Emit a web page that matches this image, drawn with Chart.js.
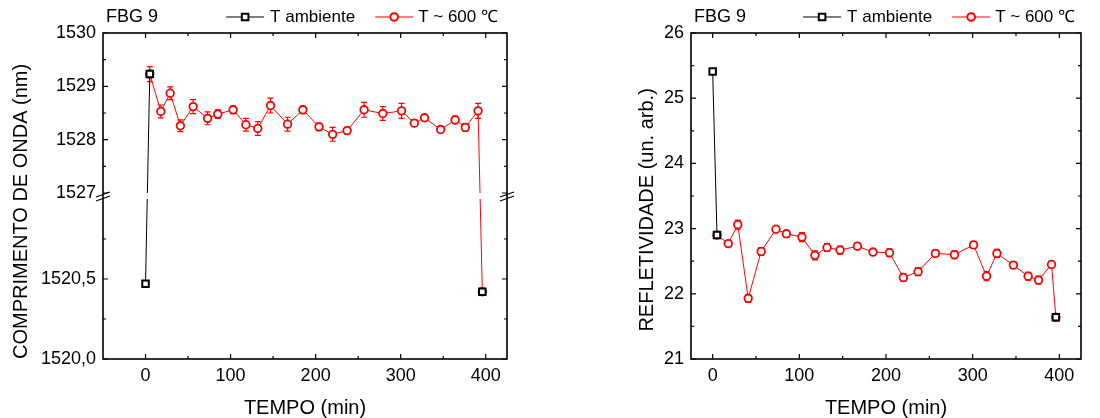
<!DOCTYPE html>
<html>
<head>
<meta charset="utf-8">
<script src="https://cdn.jsdelivr.net/npm/chart.js@4.4.0/dist/chart.umd.min.js"></script>
<style>
    html, body { margin: 0; padding: 0; background: #fff; }
    .wrap { display: flex; width: 1100px; height: 418px; }
    .panel { position: relative; width: 550px; height: 418px; }
</style>
</head>
<body>
<div class="wrap">
    <div class="panel"><canvas id="lambdaChart"></canvas></div>
    <div class="panel"><canvas id="reflChart"></canvas></div>
</div>
<script>
// time of each reading (min) - heated series
const tempo = [5, 18, 29, 41, 56, 73, 85, 103, 118, 132, 147, 167, 185, 204, 220, 237, 257, 279, 301, 316, 328, 347, 364, 376, 391, 396];
// room temperature readings
const tempoAmb = [0, 5, 396];

// left panel: wavelength (nm)
const lambdaAmb = [1520.47, 1529.23, 1520.42];
const lambdaHot = [1529.23, 1528.53, 1528.87, 1528.26, 1528.62, 1528.40, 1528.48, 1528.56, 1528.28, 1528.21, 1528.64, 1528.29, 1528.56,
                   1528.24, 1528.10, 1528.17, 1528.56, 1528.49, 1528.54, 1528.31, 1528.41, 1528.19, 1528.37, 1528.23, 1528.54, 1520.42];
const lambdaHotErr = [0.14, 0.12, 0.12, 0.11, 0.13, 0.12, 0.08, 0.07, 0.12, 0.13, 0.14, 0.13, 0.07,
                      0.07, 0.13, 0.06, 0.14, 0.13, 0.14, 0.06, 0.06, 0.05, 0.07, 0.07, 0.14, 0.02];

// right panel: reflectivity (arb. units)
const reflAmb = [25.41, 22.90, 21.64];
const reflHot = [22.90, 22.77, 23.06, 21.93, 22.65, 22.99, 22.92, 22.87, 22.59, 22.71, 22.67, 22.73, 22.64,
                 22.63, 22.25, 22.34, 22.62, 22.60, 22.75, 22.27, 22.62, 22.44, 22.27, 22.21, 22.45, 21.64];
const reflHotErr = [0.05, 0.04, 0.07, 0.06, 0.06, 0.05, 0.05, 0.07, 0.07, 0.06, 0.06, 0.05, 0.05,
                    0.06, 0.06, 0.06, 0.05, 0.06, 0.05, 0.07, 0.06, 0.05, 0.06, 0.06, 0.05, 0.05];

// ticks
const tempoTicks = [0, 100, 200, 300, 400];
const tempoMinor = [50, 150, 250, 350];
const lambdaTicks = [1520, 1520.5, 1527, 1528, 1529, 1530];
const lambdaTickLabels = ['1520,0', '1520,5', '1527', '1528', '1529', '1530'];
const lambdaMinor = [1520.25, 1520.75, 1527.5, 1528.5, 1529.5];
const reflTicks = [21, 22, 23, 24, 25, 26];
const reflMinor = [21.5, 22.5, 23.5, 24.5, 25.5];

const panelLabel = 'FBG 9';
const ambLabel = 'T ambiente';
const hotLabel = 'T ~ 600 \u2103';

// broken axis: lower part 1520..1521, upper part 1527..1530
const lowRange = [1520, 1521];
const highRange = [1527, 1530];

const FONT = 'Arial, "Liberation Sans", sans-serif';
Chart.defaults.font.family = FONT;
Chart.defaults.color = '#000';

class BrokenScale extends Chart.LinearScale {
    segLen() {
        return (this.bottom - this.top) * 160 / 326;
    }
    getPixelForValue(value) {
        if (value === null || value === undefined || isNaN(value)) return NaN;
        const seg = this.segLen();
        if (value <= (lowRange[1] + highRange[0]) / 2) {
            return this.bottom - (value - lowRange[0]) / (lowRange[1] - lowRange[0]) * seg;
        }
        return this.top + (highRange[1] - value) / (highRange[1] - highRange[0]) * seg;
    }
    getValueForPixel(pixel) {
        const seg = this.segLen();
        const mid = (this.top + this.bottom) / 2;
        if (pixel >= mid) {
            return lowRange[0] + (this.bottom - pixel) / seg * (lowRange[1] - lowRange[0]);
        }
        return highRange[1] - (pixel - this.top) / seg * (highRange[1] - highRange[0]);
    }
}
BrokenScale.id = 'broken';
BrokenScale.defaults = Chart.LinearScale.defaults;
Chart.register(BrokenScale);

function makeTicks(major, minor) {
    return major.concat(minor).sort((a, b) => a - b).map(v => ({ value: v }));
}

function drawMarker(ctx, type, x, y, color) {
    ctx.save();
    ctx.fillStyle = '#fff';
    ctx.strokeStyle = color;
    ctx.lineWidth = 2;
    ctx.beginPath();
    if (type === 'rect') {
        ctx.rect(x - 3.3, y - 3.3, 6.6, 6.6);
    } else {
        ctx.arc(x, y, 3.8, 0, Math.PI * 2);
    }
    ctx.fill();
    ctx.stroke();
    ctx.restore();
}

// frame, inner ticks, error bars, legend and axis break
function makeDecor(cfg) {
    return {
        id: 'decor',
        beforeDatasetsDraw(chart) {
            const ctx = chart.ctx;
            const yScale = chart.scales.y;
            const meta = chart.getDatasetMeta(1);
            ctx.save();
            ctx.strokeStyle = '#ff0000';
            ctx.lineWidth = 1.2;
            meta.data.forEach((pt, i) => {
                const v = cfg.values[i];
                const e = cfg.errors[i];
                const yt = yScale.getPixelForValue(v + e);
                const yb = yScale.getPixelForValue(v - e);
                ctx.beginPath();
                ctx.moveTo(pt.x, yt); ctx.lineTo(pt.x, yb);
                ctx.moveTo(pt.x - 3, yt); ctx.lineTo(pt.x + 3, yt);
                ctx.moveTo(pt.x - 3, yb); ctx.lineTo(pt.x + 3, yb);
                ctx.stroke();
            });
            ctx.restore();
        },
        afterDatasetsDraw(chart) {
            const ctx = chart.ctx;
            const a = chart.chartArea;
            const xs = chart.scales.x;
            const ys = chart.scales.y;
            ctx.save();

            let breakY = null;
            if (cfg.broken) {
                const yHigh = ys.getPixelForValue(highRange[0]);
                const yLow = ys.getPixelForValue(lowRange[1]);
                breakY = (yHigh + yLow) / 2;
                ctx.fillStyle = '#fff';
                ctx.fillRect(a.left + 1, yHigh, a.right - a.left - 2, yLow - yHigh);
            }

            // frame
            ctx.strokeStyle = '#000';
            ctx.lineWidth = 1.6;
            ctx.strokeRect(a.left, a.top, a.right - a.left, a.bottom - a.top);

            // inner ticks on all four sides
            ctx.lineWidth = 1.2;
            ctx.beginPath();
            xs.ticks.forEach(t => {
                const px = xs.getPixelForValue(t.value);
                if (px < a.left || px > a.right) return;
                const len = tempoTicks.includes(t.value) ? 5 : 3;
                ctx.moveTo(px, a.bottom); ctx.lineTo(px, a.bottom - len);
                ctx.moveTo(px, a.top); ctx.lineTo(px, a.top + len);
            });
            ys.ticks.forEach(t => {
                const py = ys.getPixelForValue(t.value);
                const len = cfg.yMajor.includes(t.value) ? 5 : 3;
                ctx.moveTo(a.left, py); ctx.lineTo(a.left + len, py);
                ctx.moveTo(a.right, py); ctx.lineTo(a.right - len, py);
            });
            ctx.stroke();

            // break marks
            if (breakY !== null) {
                ctx.lineWidth = 1.2;
                [a.left, a.right].forEach(ax => {
                    ctx.beginPath();
                    ctx.moveTo(ax - 7, breakY + 1); ctx.lineTo(ax + 7, breakY - 4);
                    ctx.moveTo(ax - 7, breakY + 5); ctx.lineTo(ax + 7, breakY);
                    ctx.stroke();
                });
            }

            // panel label and legend
            const ly = 17;
            ctx.fillStyle = '#000';
            ctx.textBaseline = 'middle';
            ctx.textAlign = 'left';
            ctx.font = '18px ' + FONT;
            ctx.fillText(panelLabel, a.left + 3, ly);

            ctx.font = cfg.legendSize + 'px ' + FONT;
            const hotW = ctx.measureText(hotLabel).width;
            const ambW = ctx.measureText(ambLabel).width;
            const hotText = a.right - cfg.legendRight - hotW;
            const hotLine = hotText - 5 - 38;
            const ambText = hotLine - 20 - ambW;
            const ambLine = ambText - 6 - 38;

            ctx.lineWidth = 1;
            ctx.strokeStyle = '#000';
            ctx.beginPath();
            ctx.moveTo(ambLine, ly); ctx.lineTo(ambLine + 38, ly);
            ctx.stroke();
            drawMarker(ctx, 'rect', ambLine + 19, ly, '#000');
            ctx.fillText(ambLabel, ambText, ly);

            ctx.strokeStyle = '#ff0000';
            ctx.beginPath();
            ctx.moveTo(hotLine, ly); ctx.lineTo(hotLine + 38, ly);
            ctx.stroke();
            drawMarker(ctx, 'circle', hotLine + 19, ly, '#ff0000');
            ctx.fillStyle = '#000';
            ctx.fillText(hotLabel, hotText, ly);
            ctx.restore();
        }
    };
}

function buildChart(canvasId, opts) {
    const ambData = tempoAmb.map((t, i) => ({ x: t, y: opts.amb[i] }));
    const hotData = tempo.map((t, i) => ({ x: t, y: opts.hot[i] }));

    const yScale = {
        type: opts.yType,
        min: opts.yMin,
        max: opts.yMax,
        afterFit: s => { s.width = opts.yWidth; },
        afterBuildTicks: s => { s.ticks = makeTicks(opts.yMajor, opts.yMinor); },
        grid: { display: false, drawTicks: false },
        border: { display: false },
        ticks: {
            autoSkip: false,
            padding: 7,
            font: { size: 18 },
            color: '#000',
            callback: v => {
                const i = opts.yMajor.indexOf(v);
                return i >= 0 ? opts.yLabels[i] : '';
            }
        },
        title: {
            display: true,
            text: opts.yTitle,
            align: opts.yTitleAlign,
            color: '#000',
            font: { size: opts.yTitleSize, lineHeight: 1 },
            padding: { top: opts.yTitlePad, bottom: 0 }
        }
    };

    return new Chart(document.getElementById(canvasId), {
        type: 'line',
        data: {
            datasets: [{
                label: ambLabel,
                data: ambData,
                borderColor: '#000',
                borderWidth: 1,
                pointStyle: 'rect',
                pointRadius: 4.6,
                pointBorderWidth: 2,
                pointBackgroundColor: '#fff',
                pointBorderColor: '#000',
                order: 1,
                segment: {
                    borderColor: c => c.p0DataIndex === 1 ? 'rgba(0,0,0,0)' : '#000'
                }
            }, {
                label: hotLabel,
                data: hotData,
                borderColor: '#ff0000',
                borderWidth: 1,
                pointStyle: 'circle',
                pointRadius: 3.8,
                pointBorderWidth: 1.8,
                pointBackgroundColor: '#fff',
                pointBorderColor: '#ff0000',
                order: 2
            }]
        },
        options: {
            responsive: true,
            maintainAspectRatio: false,
            animation: false,
            layout: { padding: { top: 33, right: opts.padRight, left: 0, bottom: 0 } },
            plugins: {
                legend: { display: false },
                tooltip: { enabled: false }
            },
            scales: {
                x: {
                    type: 'linear',
                    min: opts.xMin,
                    max: 425,
                    afterFit: s => { s.height = 59; },
                    afterBuildTicks: s => { s.ticks = makeTicks(tempoTicks, tempoMinor); },
                    grid: { display: false, drawTicks: false },
                    border: { display: false },
                    ticks: {
                        autoSkip: false,
                        maxRotation: 0,
                        padding: 6,
                        font: { size: 18 },
                        color: '#000',
                        callback: v => tempoTicks.includes(v) ? String(v) : ''
                    },
                    title: {
                        display: true,
                        text: 'TEMPO (min)',
                        color: '#000',
                        font: { size: 20, lineHeight: 1 },
                        padding: { top: 1, bottom: 0 }
                    }
                },
                y: yScale
            }
        },
        plugins: [makeDecor({
            values: opts.hot,
            errors: opts.err,
            yMajor: opts.yMajor,
            broken: opts.yType === 'broken',
            legendSize: 17,
            legendRight: opts.legendRight
        })]
    });
}

buildChart('lambdaChart', {
    amb: lambdaAmb, hot: lambdaHot, err: lambdaHotErr,
    yType: 'broken', yMin: 1520, yMax: 1530,
    yMajor: lambdaTicks, yMinor: lambdaMinor, yLabels: lambdaTickLabels,
    yTitle: 'COMPRIMENTO DE ONDA (nm)', yTitleAlign: 'start', yTitleSize: 20, yTitlePad: 11,
    yWidth: 103, padRight: 43, xMin: -50, legendRight: 9
});

// title sits a little below the axis centre in the original, trailing spaces shift it
buildChart('reflChart', {
    amb: reflAmb, hot: reflHot, err: reflHotErr,
    yType: 'linear', yMin: 21, yMax: 26,
    yMajor: reflTicks, yMinor: reflMinor, yLabels: reflTicks.map(String),
    yTitle: 'REFLETIVIDADE (un. arb.)     ', yTitleAlign: 'center', yTitleSize: 20, yTitlePad: 87,
    yWidth: 141, padRight: 19, xMin: -25, legendRight: 6
});
</script>
</body>
</html>
